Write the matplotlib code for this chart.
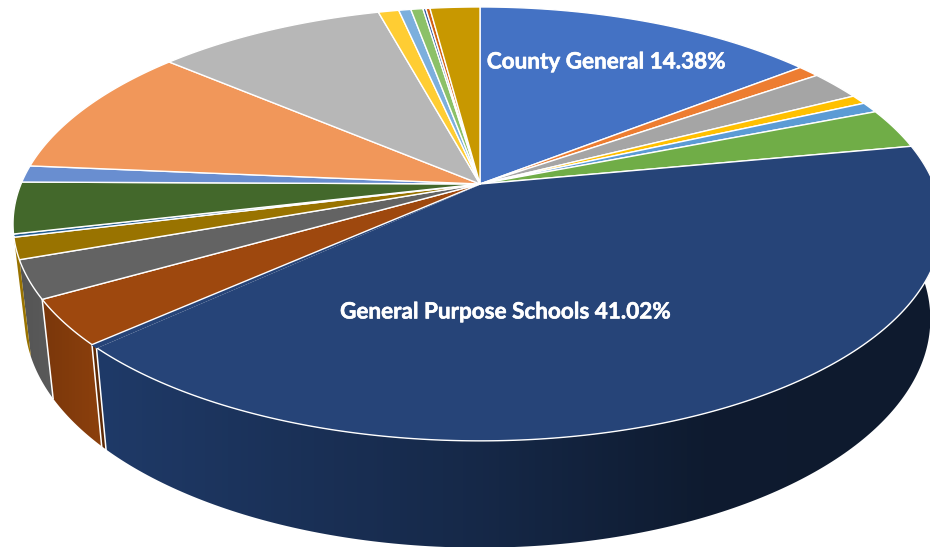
import numpy as np
import matplotlib
matplotlib.use('Agg')
import matplotlib.pyplot as plt
import matplotlib.patheffects as pe
from matplotlib.patches import Polygon

# Share of each slice in percent, clockwise from twelve o'clock
slice_values = [14.38, 0.92, 2.2, 0.7, 0.8, 3.02, 41.02, 0.24, 3.39, 2.83, 1.6, 0.23,
                3.82, 1.25, 9.9, 9.5, 0.85, 0.5, 0.5, 0.12, 0.17, 2.06]
slice_colors = ['#4472C4', '#ED7D31', '#A5A5A5', '#FFC000', '#5B9BD5', '#70AD47',
                '#264478', '#264478', '#9E480E', '#636363', '#997300', '#255E91',
                '#43682B', '#698ED0', '#F1975A', '#B7B7B7', '#FFCD33', '#7CAFDD',
                '#8CC168', '#335AA1', '#D26012', '#C89800']
# Side wall colours (left end, right end) for the slices that show a wall
wall_colors = {6: ('#1F3A68', '#0E1A2E'), 7: ('#5E2A06', '#5E2A06'), 8: ('#7A370B', '#8C400D'),
               9: ('#555555', '#5A5A5A'), 10: ('#997300', '#997300')}
label_text = {0: 'County General 14.38%', 6: 'General Purpose Schools 41.02%'}
label_pos = {0: (606, 62), 6: (505, 312)}

# Perspective of the pie disc, in pixels
apex_x, apex_y = 480, 184
tilt = 0.184
scale_y = 209.6
scale_x = 459
bottom_scale = 0.975


def top_rim(theta):
    x, y = np.sin(theta), np.cos(theta)
    w = 1 + tilt * y
    sx = np.where(x > 0, scale_x - 5, scale_x)
    return apex_x + sx * x / w, apex_y - scale_y * y / w


def bottom_rim(theta):
    px, py = top_rim(theta)
    return apex_x + bottom_scale * (px - apex_x), py + 83 + 0.054 * py


fig = plt.figure(figsize=(9.3, 5.47), dpi=100)
ax = fig.add_axes([0, 0, 1, 1])
ax.axis('off')

edges = np.concatenate([[0], np.cumsum(slice_values)]) / sum(slice_values) * 2 * np.pi

# Side walls first, the top surface is painted over them
for i, (c_left, c_right) in wall_colors.items():
    th = np.linspace(edges[i], edges[i + 1], 200)
    tx, ty = top_rim(th)
    bx, by = bottom_rim(th)
    pts = np.column_stack([np.r_[tx, bx[::-1]], np.r_[ty, by[::-1]]])
    x0, x1 = pts[:, 0].min(), pts[:, 0].max()
    cmap = matplotlib.colors.LinearSegmentedColormap.from_list('wall', [c_left, c_right])
    if i == 6:
        # the big wall darkens quickly and stays dark towards the right
        ramp = np.interp(np.linspace(0, 1, 256), [0, 0.45, 0.72, 1], [0, 0.55, 0.97, 1])
    else:
        ramp = np.linspace(0, 1, 256)
    img = ax.imshow(ramp[None, :], extent=[x0, x1, pts[:, 1].max(), pts[:, 1].min()],
                    cmap=cmap, vmin=0, vmax=1, aspect='auto', zorder=1)
    img.set_clip_path(Polygon(pts, transform=ax.transData))
    # white seam on the wall's right end
    if i in (6, 7, 8, 9):
        ax.plot([tx[0], bx[0]], [ty[0], by[0]], color='white', lw=1.1, zorder=2)

# Top surface; the narrow slice next to the big one has no outline of its own
for i, color in enumerate(slice_colors):
    th = np.linspace(edges[i], edges[i + 1], max(int(slice_values[i] * 8), 6))
    tx, ty = top_rim(th)
    pts = np.column_stack([np.r_[apex_x, tx], np.r_[apex_y, ty]])
    ax.add_patch(Polygon(pts, closed=True, facecolor=color,
                         edgecolor=color if i == 7 else 'white', lw=1.0,
                         joinstyle='round', zorder=3))

for i, text in label_text.items():
    ax.text(*label_pos[i], text, color='white', fontsize=16.2, fontweight='bold',
            family='Lato', ha='center', va='center', zorder=4,
            path_effects=[pe.withStroke(linewidth=0.4, foreground='white')])

ax.set_xlim(0, 930)
ax.set_ylim(547, 0)
fig.savefig('out.png', dpi=100, facecolor='white')
